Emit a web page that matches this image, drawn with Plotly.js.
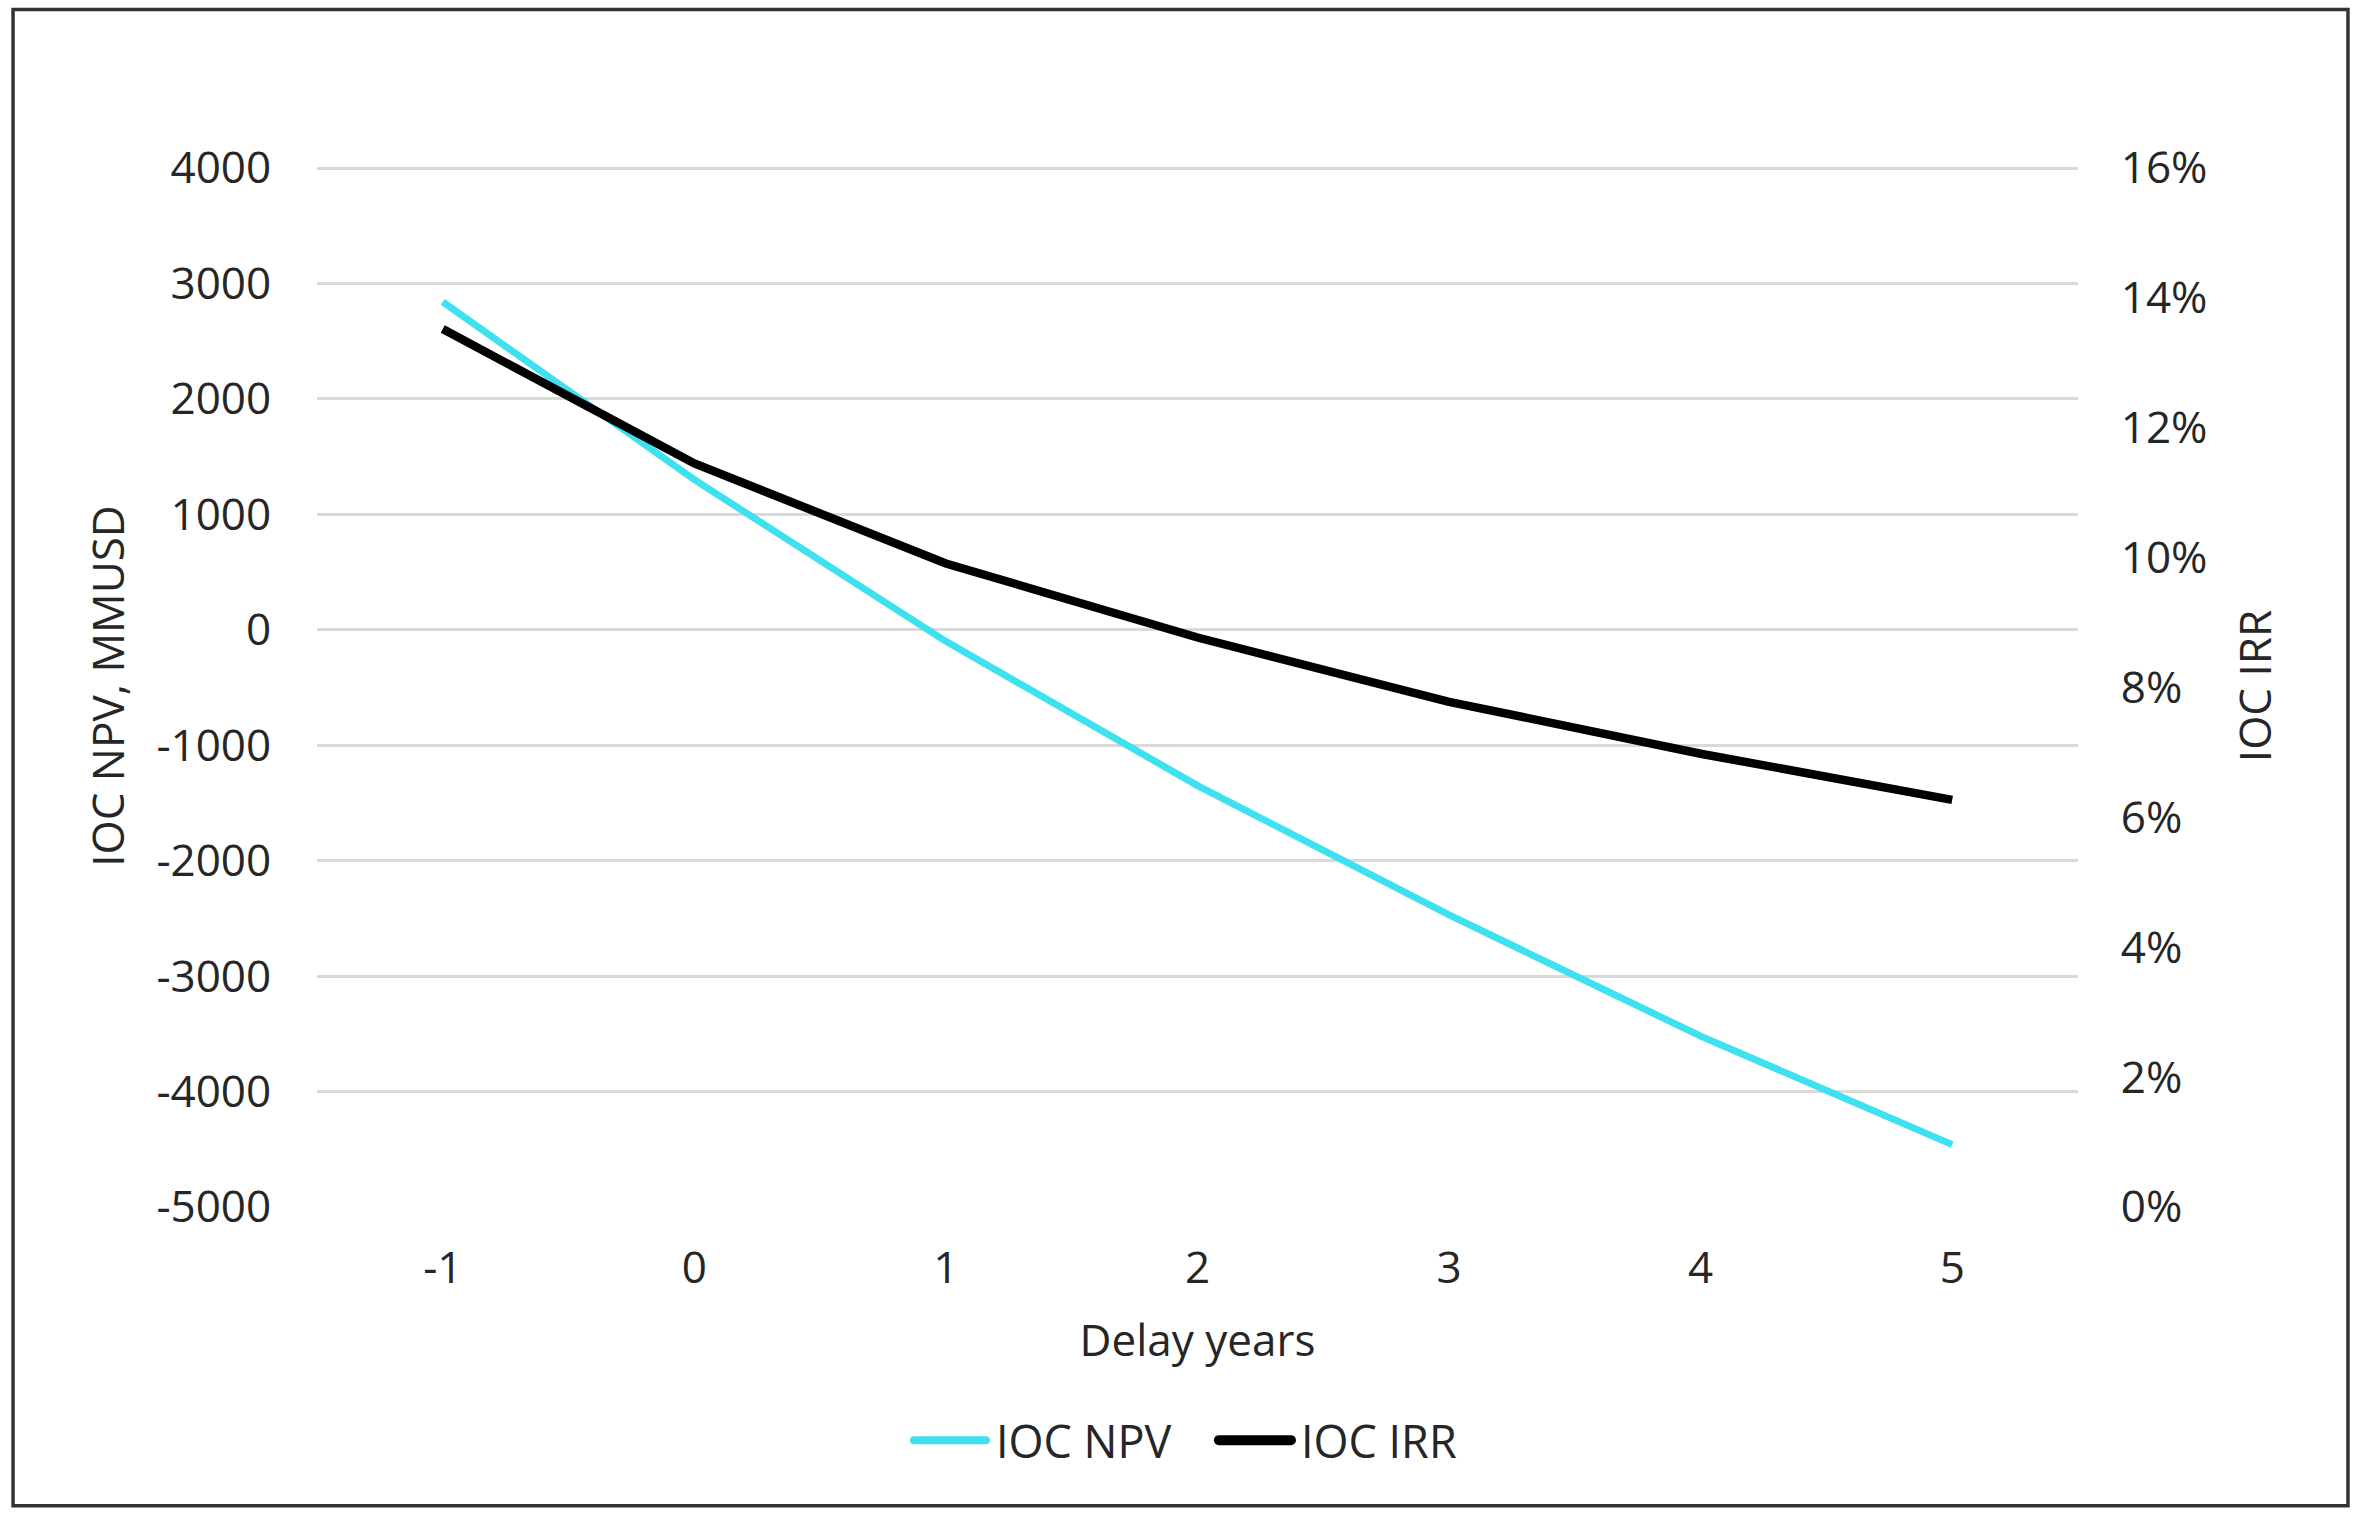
<!DOCTYPE html>
<html>
<head>
<meta charset="utf-8">
<script src="https://cdn.plot.ly/plotly-3.0.1.min.js"></script>
<style>
  html, body { margin: 0; padding: 0; background: #ffffff; }
  #chart { width: 2364px; height: 1520px; }
</style>
</head>
<body>
<div id="chart"></div>
<script>
// ---- Data ----
const delayYears = ['-1', '0', '1', '2', '3', '4', '5'];
const iocNpv = [2840, 1300, -100, -1350, -2470, -3520, -4460];          // MMUSD
const iocIrr = [0.1352, 0.1145, 0.0991, 0.0877, 0.0778, 0.0698, 0.0627]; // fraction
const npvTicks = [-5000, -4000, -3000, -2000, -1000, 0, 1000, 2000, 3000, 4000];
const irrTicks = [0, 0.02, 0.04, 0.06, 0.08, 0.10, 0.12, 0.14, 0.16];

const npvTickText = npvTicks.map(v => String(v));
const irrTickText = irrTicks.map(v => Math.round(v * 100) + '%');

// small headroom so the top gridline (4000 / 16%) is drawn; both axes share it
const npvMin = -5000, npvMax = 4000, pad = 26;
const irrMin = 0, irrMax = 0.16;
const irrPad = (irrMax - irrMin) * pad / (npvMax - npvMin);

const FONT = 'Open Sans, Noto Sans, sans-serif';
const TXT = '#262626';
const FS = 44;

const traces = [
  {
    x: delayYears, y: iocNpv, name: 'IOC NPV', type: 'scatter', mode: 'lines',
    line: { color: '#3fe0ef', width: 7 }, yaxis: 'y'
  },
  {
    x: delayYears, y: iocIrr, name: 'IOC IRR', type: 'scatter', mode: 'lines',
    line: { color: '#000000', width: 8.5 }, yaxis: 'y2'
  }
];

const layout = {
  width: 2364, height: 1520,
  paper_bgcolor: '#ffffff', plot_bgcolor: '#ffffff',
  margin: { l: 317, r: 286, t: 165, b: 313, pad: 0 },
  font: { family: FONT, size: FS, color: TXT },
  showlegend: true,
  legend: {
    orientation: 'h', x: 0.3367, xanchor: 'left', y: -0.224, yanchor: 'middle',
    font: { family: FONT, size: 45, color: TXT },
    itemwidth: 76,
    entrywidthmode: 'pixels', entrywidth: 214,
    bgcolor: 'rgba(0,0,0,0)'
  },
  xaxis: {
    type: 'category', range: [-0.5, 6.5],
    showgrid: false, zeroline: false, showline: false,
    ticks: 'outside', ticklen: 22, tickcolor: 'rgba(0,0,0,0)',
    tickfont: { family: FONT, size: FS, color: TXT },
    title: { text: 'Delay years', standoff: 30, font: { family: FONT, size: FS, color: TXT } }
  },
  yaxis: {
    range: [npvMin, npvMax + pad], tickvals: npvTicks, ticktext: npvTickText,
    showgrid: true, gridcolor: '#d9d9d9', gridwidth: 3,
    zeroline: false, showline: false,
    ticks: 'outside', ticklen: 36, tickcolor: 'rgba(0,0,0,0)',
    tickfont: { family: FONT, size: FS, color: TXT },
    title: { text: 'IOC NPV, MMUSD', standoff: 18, font: { family: FONT, size: FS, color: TXT } }
  },
  yaxis2: {
    overlaying: 'y', side: 'right',
    range: [irrMin, irrMax + irrPad], tickvals: irrTicks, ticktext: irrTickText,
    showgrid: false, zeroline: false, showline: false,
    ticks: 'outside', ticklen: 33, tickcolor: 'rgba(0,0,0,0)',
    tickfont: { family: FONT, size: FS, color: TXT },
    title: { text: 'IOC IRR', standoff: 33, font: { family: FONT, size: FS, color: TXT } }
  },
  shapes: [
    {
      type: 'rect', xref: 'paper', yref: 'paper',
      x0: -0.1726, x1: 1.1533, y0: -0.2868, y1: 1.1492,
      line: { color: '#333333', width: 3.5 }, fillcolor: 'rgba(0,0,0,0)', layer: 'below'
    }
  ]
};

const legendSwatchWidths = [8, 10];

Plotly.newPlot('chart', traces, layout, { staticPlot: true, displayModeBar: false }).then(gd => {
  // lengthen / thicken the legend line samples to match the reference's long swatches
  gd.querySelectorAll('.legend .traces').forEach((t, i) => {
    t.querySelectorAll('.legendlines path').forEach(p => {
      p.setAttribute('d', 'M4,0h72');
      p.style.strokeLinecap = 'round';
      p.style.strokeWidth = legendSwatchWidths[i] + 'px';
    });
  });
});
</script>
</body>
</html>
